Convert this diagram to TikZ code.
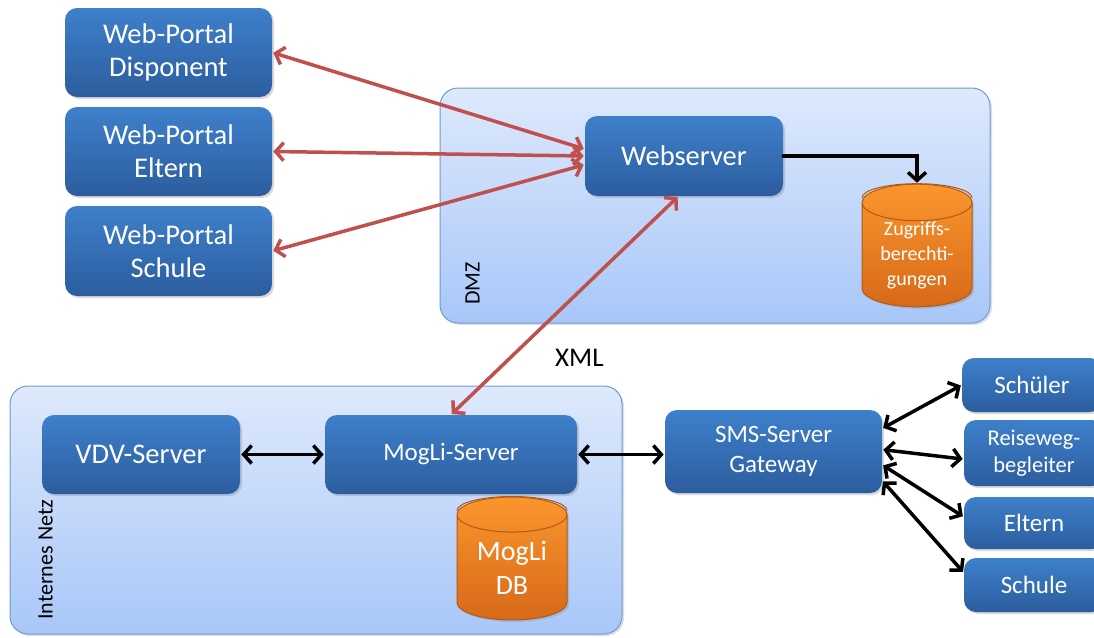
\documentclass[tikz,border=0pt]{standalone}
\usepackage{fontspec}
\setmainfont{Carlito}
\usetikzlibrary{arrows.meta,calc,positioning,shadows,shapes.geometric}
\definecolor{boxtop}{RGB}{62,128,203}
\definecolor{boxbottom}{RGB}{44,93,158}
\definecolor{zonetop}{RGB}{222,233,252}
\definecolor{zonebottom}{RGB}{168,199,248}
\definecolor{zoneedge}{RGB}{110,155,212}
\definecolor{dbtop}{RGB}{250,150,45}
\definecolor{dbbottom}{RGB}{215,105,25}
\definecolor{dbedge}{RGB}{180,90,20}
\definecolor{linkred}{RGB}{192,80,77}

\begin{document}
\begin{tikzpicture}[x=1pt, y=-1pt, >={Straight Barb[length=8pt,width=18pt]}, line cap=round, semithick]
   \tikzstyle{zone}=[rectangle, rounded corners=18pt, draw=zoneedge, line width=1pt, top color=zonetop, bottom color=zonebottom, drop shadow={opacity=.25, shadow xshift=2pt, shadow yshift=-2pt}, inner sep=0pt]
   \tikzstyle{server}=[rectangle, rounded corners=12pt, draw=none, top color=boxtop, bottom color=boxbottom, text=white, drop shadow={opacity=.3, shadow xshift=2pt, shadow yshift=-2pt}, align=center, inner sep=0pt, font=\fontsize{28.5}{33}\selectfont]
   \tikzstyle{small}=[font=\fontsize{25}{30}\selectfont]
   \tikzstyle{database}=[cylinder, shape border rotate=90, aspect=0.5, anchor=shape center, draw=dbedge, line width=1pt, top color=dbtop, bottom color=dbbottom, text=white, align=center, inner sep=0pt, drop shadow={opacity=.25, shadow xshift=2pt, shadow yshift=-2pt}]
   \tikzstyle{weblink}=[<->, draw=linkred, line width=3.5pt, shorten >=1pt, shorten <=1pt]
   \tikzstyle{smslink}=[<->, draw=black, line width=3.5pt, shorten >=1pt, shorten <=1pt]
   \tikzstyle{zonelabel}=[rotate=90, anchor=south west, inner sep=0pt, font=\fontsize{22}{24}\selectfont]

   \useasboundingbox (0,0) rectangle (1094,637);

   % zones
   \node[zone, minimum width=550pt, minimum height=235pt] (dmz) at (715,205.5) {};
   \node[zone, minimum width=612pt, minimum height=248pt] (intern) at (316,510) {};
   \node[zonelabel] (dmz_label) at (480,305) {DMZ};
   \node[zonelabel] (intern_label) at (53,620) {Internes Netz};

   % portals
   \node[server, minimum width=207pt, minimum height=89pt] (portal_disp) at (168.5,52.5) {Web-Portal\\Disponent};
   \node[server, minimum width=207pt, minimum height=89pt] (portal_eltern) at (168.5,151.5) {Web-Portal\\Eltern};
   \node[server, minimum width=207pt, minimum height=90pt] (portal_schule) at (168.5,251) {Web-Portal\\Schule};

   % dmz
   \node[server, minimum width=198pt, minimum height=80pt] (webserver) at (684,156) {Webserver};
   \node[database, minimum width=110pt, minimum height=119pt, font=\fontsize{20}{25}\selectfont] (rights_db) at (917,245.5) {Zugriffs-\\berechti-\\gungen};
   \draw[dbedge, line width=1pt] ($(rights_db.top)+(-55,14)$) arc[start angle=180, end angle=0, x radius=55pt, y radius=14pt];

   % internes netz
   \node[server, minimum width=198pt, minimum height=79pt] (vdv) at (141,454.5) {VDV-Server};
   \node[server, small, minimum width=252pt, minimum height=79pt] (mogli) at (451,454.5) {MogLi-Server};
   \node[database, minimum width=110pt, minimum height=123pt, font=\fontsize{28}{34}\selectfont] (mogli_db) at (512,558.5) {MogLi\\DB};
   \draw[dbedge, line width=1pt] ($(mogli_db.top)+(-55,14)$) arc[start angle=180, end angle=0, x radius=55pt, y radius=14pt];

   % sms
   \node[server, small, minimum width=217pt, minimum height=83pt] (sms) at (773.5,451.5) {SMS-Server\\Gateway};
   \node[server, small, minimum width=140pt, minimum height=54pt] (sms_schueler) at (1032,385) {Schüler};
   \node[server, minimum width=140pt, minimum height=66pt, font=\fontsize{22.5}{27}\selectfont] (sms_begleiter) at (1034,453) {Reiseweg-\\begleiter};
   \node[server, small, minimum width=140pt, minimum height=52pt] (sms_eltern) at (1034,523) {Eltern};
   \node[server, small, minimum width=140pt, minimum height=54pt] (sms_schule) at (1034,585) {Schule};

   \path
  (portal_disp.east) edge [weblink] (webserver.176)
  (portal_eltern.east) edge [weblink] (webserver.180)
  (portal_schule.east) edge [weblink] (webserver.185)
  (webserver.262) edge [weblink] node [pos=.74, right=40pt, text=black, font=\fontsize{27}{30}\selectfont] (xml_label) {XML} (mogli.north)
  (vdv) edge [smslink] (mogli)
  (mogli.east) edge [smslink] (sms.west |- mogli.east)
  (sms.12) edge [smslink] (sms_schueler.west)
  (sms.1) edge [smslink] (sms_begleiter.185)
  (sms.-7) edge [smslink] (sms_eltern.175)
  (sms.-15) edge [smslink] (sms_schule.170)
   ;
   \draw[->, line width=3.5pt, shorten >=1pt] (webserver.east) -| (rights_db.top);
\end{tikzpicture}
\end{document}
